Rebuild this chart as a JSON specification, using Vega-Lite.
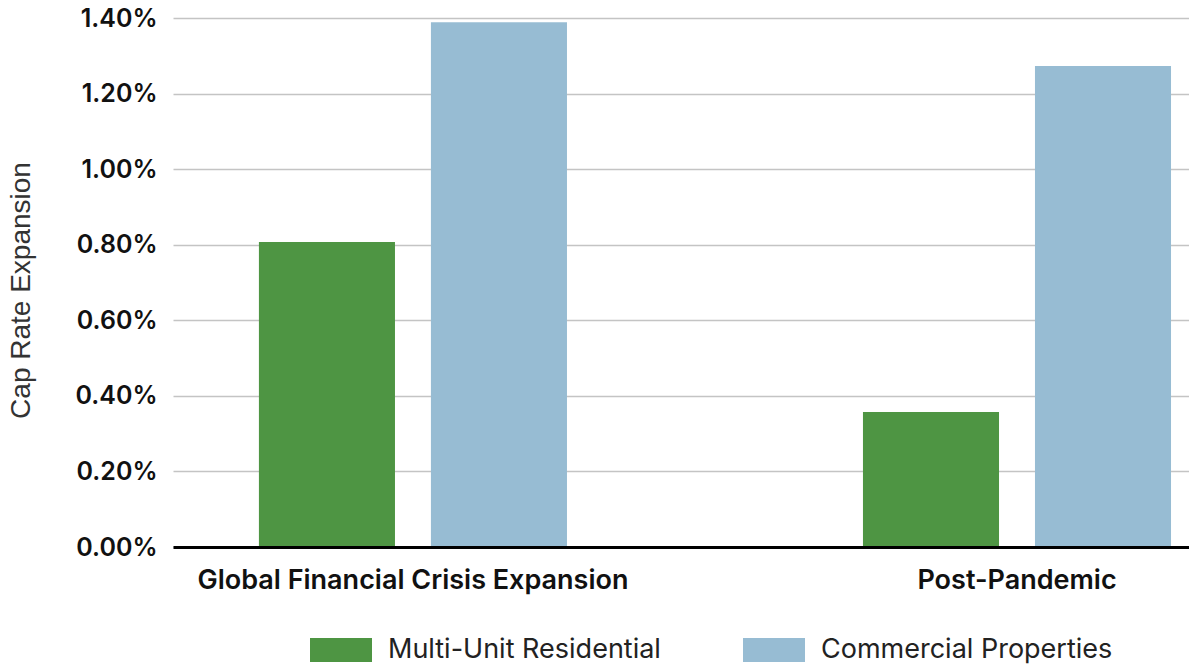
{
  "$schema": "https://vega.github.io/schema/vega-lite/v6.json",
  "width": 1016,
  "height": 529,
  "autosize": "none",
  "padding": {"left": 173, "top": 18, "right": 0, "bottom": 121},
  "background": "white",
  "data": {
    "values": [
      {"period": "Global Financial Crisis Expansion", "type": "Multi-Unit Residential", "value": 0.00807},
      {"period": "Global Financial Crisis Expansion", "type": "Commercial Properties", "value": 0.01389},
      {"period": "Post-Pandemic", "type": "Multi-Unit Residential", "value": 0.00357},
      {"period": "Post-Pandemic", "type": "Commercial Properties", "value": 0.01273}
    ]
  },
  "config": {
    "view": {"stroke": null},
    "font": "Inter"
  },
  "mark": {"type": "bar"},
  "encoding": {
    "x": {
      "field": "period",
      "type": "nominal",
      "sort": null,
      "scale": {"paddingInner": 0.49, "paddingOuter": 0.086, "align": 0.827},
      "axis": {
        "title": null,
        "labelAngle": 0,
        "labelFont": "Inter",
        "labelFontSize": 27,
        "labelFontWeight": 600,
        "labelColor": "#111111",
        "labelPadding": 20,
        "labelLimit": 600,
        "ticks": false,
        "domainColor": "#000000",
        "domainWidth": 3,
        "zindex": 2
      }
    },
    "xOffset": {
      "field": "type",
      "type": "nominal",
      "sort": ["Multi-Unit Residential", "Commercial Properties"],
      "scale": {"paddingInner": 0.209, "paddingOuter": 0}
    },
    "y": {
      "field": "value",
      "type": "quantitative",
      "scale": {"domain": [0, 0.014], "nice": false},
      "axis": {
        "title": "Cap Rate Expansion",
        "titleFont": "Liberation Sans",
        "titleFontSize": 28,
        "titleFontWeight": "normal",
        "titleColor": "#333333",
        "titleX": -152,
        "titleY": 272,
        "titleAnchor": "middle",
        "titleAngle": -90,
        "titleBaseline": "middle",
        "values": [0, 0.002, 0.004, 0.006, 0.008, 0.01, 0.012, 0.014],
        "format": ".2%",
        "labelFont": "Inter",
        "labelFontSize": 25,
        "labelFontWeight": 600,
        "labelColor": "#111111",
        "labelPadding": 16,
        "ticks": false,
        "domain": false,
        "gridColor": "#c4c4c4",
        "gridWidth": 1.5,
        "zindex": 0
      }
    },
    "color": {
      "field": "type",
      "type": "nominal",
      "sort": ["Multi-Unit Residential", "Commercial Properties"],
      "scale": {"domain": ["Multi-Unit Residential", "Commercial Properties"], "range": ["#4e9543", "#97bcd3"]},
      "legend": {
        "title": null,
        "orient": "none",
        "direction": "horizontal",
        "legendX": 137,
        "legendY": 601,
        "symbolType": "M-1,-0.387H1V0.387H-1Z",
        "symbolSize": 3844,
        "symbolStrokeWidth": 0,
        "labelFont": "Inter",
        "labelFontSize": 27,
        "labelColor": "#222222",
        "labelOffset": 16,
        "labelLimit": 400,
        "columnPadding": 82
      }
    }
  }
}
